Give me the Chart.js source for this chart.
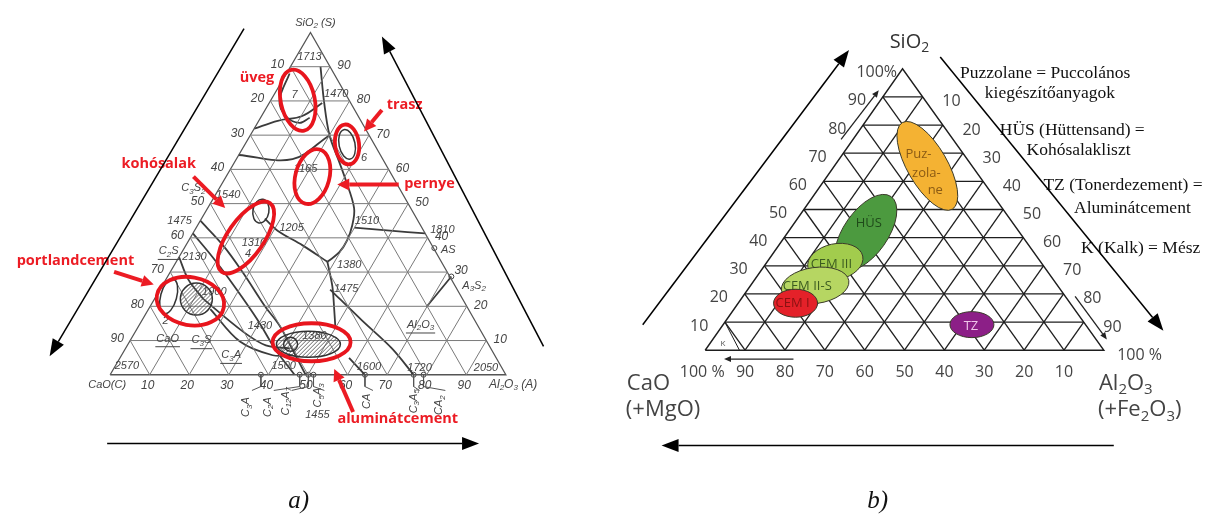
<!DOCTYPE html>
<html>
<head>
<meta charset="utf-8">
<script src="https://cdn.jsdelivr.net/npm/chart.js@4.4.1/dist/chart.umd.min.js"></script>
<style>
  html, body { margin: 0; padding: 0; background: #fff; overflow: hidden; }
  canvas { display: block; }
</style>
</head>
<body>
<canvas id="chart" width="1214" height="521"></canvas>
<script>
const W = 1214, H = 521;
const ticks = [10, 20, 30, 40, 50, 60, 70, 80, 90];

// a) CaO - Al2O3 - SiO2 phase diagram, boundary curves as [Al2O3 %, SiO2 %]
const aCurves = [
    [[7.6, 90], [13.9, 79.4], [20, 70], [26.4, 62.2], [30.4, 57.3], [37, 48.7], [39.1, 43.6], [40, 39.3], [39.8, 35.8], [38.2, 33]],
    [[38.2, 33], [43.1, 25.8], [46.9, 19.2], [50.1, 13.5]],
    [[43, 24.9], [55.7, 15.8], [67.3, 7.7], [76.7, 0]],
    [[39.9, 43], [49.4, 42.1], [58.7, 41.3]],
    [[38.2, 33], [29.5, 37.8], [21, 42.1], [16, 45.6]],
    [[0, 64.2], [14.2, 63], [20, 70]],
    [[0, 71.9], [4.8, 74.2], [10.3, 75.6], [13.4, 79.4]],
    [[0.8, 88], [2.2, 80.2], [6.1, 75.6], [10.6, 73.6], [12.4, 75.1]],
    [[0, 45], [9.4, 37.8], [18.5, 29.8], [28.9, 20.1], [35.6, 14.3], [42.5, 7.2], [49.4, 0]],
    [[0, 41.3], [8.8, 34.1], [18.7, 25.5], [29.4, 15.8], [37.7, 7.7], [46.6, 0]],
    [[12.4, 22.1], [27.2, 12.6], [35, 8.6], [41.5, 7.7]],
    [[15.6, 19.2], [27.9, 9.7], [38.2, 5.7], [43.2, 5.7]],
    [[0, 34.4], [5.7, 27.8], [12.4, 22.1]],
    [[57.9, 4.9], [64.4, 0]],
    [[71.7, 28.7], [69.9, 19.8]]
];

// compounds on the CaO - Al2O3 side (Al2O3 %)
const aCompounds = ['C_3A', 'C_2A', 'C_12A_7', 'C_5A_3', 'CA', 'C_3A_5', 'CA_2'];
const aCompoundAl2O3 = [38.1, 47.9, 50.1, 51.4, 64.4, 76.7, 79.2];
const aEdgePoints = [[71.7, 28.7], [63.2, 37]];

// red marked fields [Al2O3 %, SiO2 %]
const aFields = ['üveg', 'trasz', 'pernye', 'kohósalak', 'portlandcement', 'aluminátcement'];
const aFieldAl2O3 = [6.8, 25.8, 21.8, 14.0, 9.4, 46.1];
const aFieldSiO2 = [80.2, 67.3, 57.9, 40.1, 21.5, 9.5];

// small grey / hatched fields inside
const aInnerAl2O3 = [25.8, 13.9, 3.2, 10.6, 45.6, 41.1];
const aInnerSiO2 = [67.3, 47.8, 22.9, 22.1, 8.9, 8.9];

// b) cement materials in CaO - SiO2 - Al2O3
const bRegions = ['Puzzolane', 'HÜS', 'CEM III', 'CEM II-S', 'CEM I', 'TZ'];
const bSiO2 = [65.5, 41.8, 31.4, 23.0, 16.7, 9.1];
const bAl2O3 = [23.3, 19.6, 17.1, 16.2, 14.4, 62.4];

const legendLines = [
    'Puzzolane = Puccolános', 'kiegészítőanyagok',
    'HÜS (Hüttensand) =', 'Kohósalakliszt',
    'TZ (Tonerdezement) =', 'Aluminátcement',
    'K (Kalk) = Mész'
];

// layout: triangle corners in chart units
const triA = { C: [106, 377], A: [505, 377], S: [308, 28] };
const triB = { C: [706, 352], A: [1108, 352], S: [905, 65] };

function tern(tri, a, s) {
    const A = a / 100, S = s / 100, C = 1 - A - S;
    return {
        x: C * tri.C[0] + A * tri.A[0] + S * tri.S[0],
        y: C * tri.C[1] + A * tri.A[1] + S * tri.S[1]
    };
}

function gridLines(tri) {
    const out = [];
    ticks.forEach(t => {
        out.push([tern(tri, 0, t), tern(tri, 100 - t, t)]);
        out.push([tern(tri, t, 0), tern(tri, t, 100 - t)]);
        out.push([tern(tri, 0, 100 - t), tern(tri, 100 - t, 0)]);
    });
    return out;
}

const datasets = [];
function addLine(pts, color, width, tension = 0) {
    datasets.push({ data: pts, showLine: true, borderColor: color, borderWidth: width, pointRadius: 0, tension: tension, fill: false });
}

gridLines(triA).forEach(l => addLine(l, '#7a7a7a', 1));
addLine([tern(triA, 0, 0), tern(triA, 100, 0), tern(triA, 0, 100), tern(triA, 0, 0)], '#555', 1.3);
aCurves.forEach(c => addLine(c.map(p => tern(triA, p[0], p[1])), '#3b3b3b', 1.8, 0.35));
aCompoundAl2O3.forEach(v => {
    const p = tern(triA, v, 0);
    addLine([p, { x: p.x, y: p.y + 12 }], '#555', 1);
});
datasets.push({
    data: aCompoundAl2O3.map(v => tern(triA, v, 0)).concat(aEdgePoints.map(p => tern(triA, p[0], p[1]))),
    pointRadius: 2.5, pointBackgroundColor: '#fff', pointBorderColor: '#444', pointBorderWidth: 1
});

gridLines(triB).forEach(l => addLine(l, '#1e1e1e', 1.3));
addLine([tern(triB, 0, 0), tern(triB, 100, 0), tern(triB, 0, 100), tern(triB, 0, 0)], '#1e1e1e', 1.4);
addLine([tern(triB, 0, 10), tern(triB, 8.6, 0)], '#1e1e1e', 1);

// ---------- drawing helpers ----------
function rich(ctx, str, x, y, o) {
    const size = o.size || 12, fam = o.family || '"Liberation Sans"', st = o.style || '';
    const parts = [];
    str.split(/(_\d+)/).forEach(s => {
        if (!s) return;
        if (s[0] === '_') parts.push({ t: s.slice(1), sub: true });
        else parts.push({ t: s, sub: false });
    });
    const font = sub => `${st} ${sub ? Math.round(size * 0.7) : size}px ${fam}`;
    let w = 0;
    parts.forEach(p => { ctx.font = font(p.sub); p.w = ctx.measureText(p.t).width; w += p.w; });
    let cx = o.align === 'left' ? x : o.align === 'right' ? x - w : x - w / 2;
    const x0 = cx;
    ctx.fillStyle = o.color || '#333';
    ctx.textBaseline = 'middle';
    ctx.textAlign = 'left';
    parts.forEach(p => {
        ctx.font = font(p.sub);
        ctx.fillText(p.t, cx, y + (p.sub ? size * 0.3 : 0));
        cx += p.w;
    });
    if (o.underline) {
        ctx.strokeStyle = o.color || '#333';
        ctx.lineWidth = 1;
        ctx.beginPath();
        ctx.moveTo(x0 - 1, y + size * 0.75);
        ctx.lineTo(x0 + w + 1, y + size * 0.75);
        ctx.stroke();
    }
}

function arrow(ctx, x1, y1, x2, y2, color, lw, hl, hw) {
    const ang = Math.atan2(y2 - y1, x2 - x1);
    const bx = x2 - hl * Math.cos(ang), by = y2 - hl * Math.sin(ang);
    ctx.strokeStyle = color; ctx.fillStyle = color; ctx.lineWidth = lw;
    ctx.beginPath(); ctx.moveTo(x1, y1); ctx.lineTo(bx, by); ctx.stroke();
    ctx.beginPath();
    ctx.moveTo(x2, y2);
    ctx.lineTo(bx + hw / 2 * Math.sin(ang), by - hw / 2 * Math.cos(ang));
    ctx.lineTo(bx - hw / 2 * Math.sin(ang), by + hw / 2 * Math.cos(ang));
    ctx.closePath(); ctx.fill();
}

const aLabels = [
    ['SiO_2 (S)', 313, 18], ['1713', 307, 53], ['1470', 334, 91], ['7', 292, 92], ['6', 362, 156],
    ['1165', 303, 167], ['1540', 225, 194], ['C_3S_2', 190, 187], ['1475', 176, 220], ['2130', 191, 257],
    ['1205', 289, 227], ['1310', 251, 243], ['4', 245, 254], ['1510', 365, 220], ['1810', 441, 229],
    ['AS', 447, 250], ['1380', 347, 265], ['1475', 344, 289], ['A_3S_2', 473, 286], ['2050', 485, 370],
    ['1720', 418, 370], ['1600', 367, 369], ['1430', 257, 327], ['1500', 281, 368], ['2570', 123, 368],
    ['1900', 211, 293], ['1380', 312, 337], ['2', 162, 322], ['CaO(C)', 103, 387], ['1455', 315, 418]
];
const aUnderlined = [['C_2S', 165, 251], ['Al_2O_3', 419, 326], ['C_3S', 198, 342], ['CaO', 164, 340], ['C_3A', 228, 357]];
const aCompoundLabelX = [243, 265, 283, 316, 365, 412, 438];
const aCompoundLabelY = [410, 410, 404, 398, 404, 404, 408];

const fieldStyle = [
    { rx: 17, ry: 31, rot: -12 }, { rx: 12, ry: 20, rot: -7 }, { rx: 17, ry: 28, rot: 15 },
    { rx: 18, ry: 42, rot: 35 }, { rx: 34, ry: 24, rot: 10 }, { rx: 39, ry: 19, rot: 0 }
];
const fieldText = [[254, 74], [403, 102], [428, 182], [155, 162], [71, 261], [396, 422]];
const redArrows = [[380, 107, 362, 129], [397, 183, 335, 183], [190, 175, 222, 207], [110, 272, 150, 285], [351, 415, 332, 371]];

const bStyle = [
    { rx: 20, ry: 50, rot: -30, color: '#f4b233', text: '#8a5a14' },
    { rx: 22, ry: 44, rot: 35, color: '#4c9a3f', text: '#1f4a1a' },
    { rx: 28, ry: 18, rot: -12, color: '#a2cc4d', text: '#3c5c20' },
    { rx: 34, ry: 18, rot: -8, color: '#b6d662', text: '#3c5c20' },
    { rx: 22, ry: 14, rot: 0, color: '#e42129', text: '#8a1212' },
    { rx: 22, ry: 13, rot: 0, color: '#8c1f87', text: '#f0c6ea' }
];
const bRegionText = [
    [['Puz-', -9, -12], ['zola-', -1, 8], ['ne', 8, 25]],
    [['HÜS', 3, -9]], [['CEM III', -4, 2]], [['CEM II-S', -8, 1]], [['CEM I', -3, 0]], [['TZ', -1, 2]]
];
const legendPos = [[963, 70], [988, 90], [1003, 128], [1030, 148], [1047, 184], [1078, 207], [1085, 248]];
const bigArrows = [
    [241, 24, 45, 358], [543, 348, 380, 32], [103, 447, 478, 447],
    [643, 326, 851, 46], [943, 53, 1168, 332], [1118, 449, 662, 449]
];
const smallArrows = [[843, 137, 881, 87], [795, 361, 725, 361], [1079, 297, 1111, 341]];

const decor = {
    id: 'decor',
    beforeDraw(chart) {
        const c = chart.ctx;
        c.save(); c.fillStyle = '#fff'; c.fillRect(0, 0, chart.width, chart.height); c.restore();
    },
    afterDatasetsDraw(chart) {
        const ctx = chart.ctx;
        const X = v => chart.scales.x.getPixelForValue(v);
        const Y = v => chart.scales.y.getPixelForValue(v);
        const ell = (p, rx, ry, rot) => {
            ctx.beginPath();
            ctx.ellipse(X(p.x), Y(p.y), rx, ry, rot * Math.PI / 180, 0, Math.PI * 2);
        };
        ctx.save();

        // ----- a) -----
        const ita = { size: 12, style: 'italic', color: '#444' };
        ticks.forEach(t => {
            let p = tern(triA, 0, 100 - t);
            rich(ctx, String(t), X(p.x - 13), Y(p.y - 2), ita);
            p = tern(triA, 100 - t, t);
            rich(ctx, String(t), X(p.x + 14), Y(p.y - 1), ita);
            p = tern(triA, t, 0);
            rich(ctx, String(t), X(p.x - 2), Y(p.y + 11), ita);
        });
        aLabels.forEach(l => rich(ctx, l[0], X(l[1]), Y(l[2]), { size: 11, style: 'italic', color: '#444' }));
        aUnderlined.forEach(l => rich(ctx, l[0], X(l[1]), Y(l[2]), { size: 11, style: 'italic', color: '#444', underline: true }));
        rich(ctx, 'Al_2O_3 (A)', X(488), Y(387), { size: 12, style: 'italic', color: '#444', align: 'left' });
        aCompounds.forEach((name, i) => {
            const p = tern(triA, aCompoundAl2O3[i], 0);
            ctx.strokeStyle = '#555'; ctx.lineWidth = 1;
            ctx.beginPath(); ctx.moveTo(X(p.x), Y(p.y + 12)); ctx.lineTo(X(aCompoundLabelX[i] + 6), Y(p.y + 16)); ctx.stroke();
            ctx.save();
            ctx.translate(X(aCompoundLabelX[i]), Y(aCompoundLabelY[i]));
            ctx.rotate(-Math.PI / 2);
            rich(ctx, name, 0, 0, { size: 11, style: 'italic', color: '#444' });
            ctx.restore();
        });

        // grey & hatched inner fields
        const inner = [
            { rx: 8, ry: 15, rot: -12, hatch: false }, { rx: 8, ry: 12, rot: 10, hatch: false },
            { rx: 8, ry: 18, rot: 15, hatch: false }, { rx: 16, ry: 16, rot: 0, hatch: true },
            { rx: 32, ry: 13, rot: 0, hatch: true }, { rx: 7, ry: 7, rot: 0, hatch: false }
        ];
        inner.forEach((s, i) => {
            const p = tern(triA, aInnerAl2O3[i], aInnerSiO2[i]);
            if (s.hatch) {
                ctx.save();
                ell(p, s.rx, s.ry, s.rot); ctx.clip();
                ctx.strokeStyle = '#555'; ctx.lineWidth = 0.9;
                for (let d = -50; d <= 50; d += 4) {
                    ctx.beginPath();
                    ctx.moveTo(X(p.x) + d - 20, Y(p.y) + 20);
                    ctx.lineTo(X(p.x) + d + 20, Y(p.y) - 20);
                    ctx.stroke();
                }
                ctx.restore();
            }
            ell(p, s.rx, s.ry, s.rot);
            ctx.strokeStyle = '#333'; ctx.lineWidth = 1.5; ctx.stroke();
        });

        // red fields and labels
        aFields.forEach((name, i) => {
            const p = tern(triA, aFieldAl2O3[i], aFieldSiO2[i]);
            const s = fieldStyle[i];
            ell(p, s.rx, s.ry, s.rot);
            ctx.strokeStyle = '#e8151d'; ctx.lineWidth = 3.8; ctx.stroke();
            rich(ctx, name, X(fieldText[i][0]), Y(fieldText[i][1]), { size: 14.5, style: 'bold', family: '"Open Sans"', color: '#ec1c24' });
        });
        redArrows.forEach(a => arrow(ctx, X(a[0]), Y(a[1]), X(a[2]), Y(a[3]), '#ec1c24', 4, 12, 12));

        // ----- b) -----
        bRegions.forEach((name, i) => {
            const p = tern(triB, bAl2O3[i], bSiO2[i]);
            const s = bStyle[i];
            ell(p, s.rx, s.ry, s.rot);
            ctx.fillStyle = s.color; ctx.fill();
            ctx.strokeStyle = '#3a3a2a'; ctx.lineWidth = 1; ctx.stroke();
            bRegionText[i].forEach(t => rich(ctx, t[0], X(p.x + t[1]), Y(p.y + t[2]),
                { size: 13, family: '"Open Sans"', color: s.text }));
        });

        const bt = { size: 16, family: '"Open Sans"', color: '#444' };
        ticks.concat([100]).forEach(t => {
            let p = tern(triB, 0, t);
            rich(ctx, t === 100 ? '100%' : String(t), X(p.x - 26), Y(p.y + 4), bt);
            p = tern(triB, t, 100 - t);
            rich(ctx, t === 100 ? '100 %' : String(t), X(p.x + (t === 100 ? 36 : 29)), Y(p.y + 5), bt);
            p = tern(triB, 100 - t, 0);
            rich(ctx, t === 100 ? '100 %' : String(t), X(p.x - (t === 100 ? 3 : 0)), Y(p.y + 23), bt);
        });
        rich(ctx, 'K', X(724), Y(345), { size: 8, family: '"Open Sans"', color: '#555' });
        rich(ctx, 'SiO_2', X(892), Y(38), { size: 20, family: '"Open Sans"', color: '#333', align: 'left' });
        rich(ctx, 'CaO', X(627), Y(386), { size: 22, family: '"Open Sans"', color: '#444', align: 'left' });
        rich(ctx, '(+MgO)', X(626), Y(413), { size: 22, family: '"Open Sans"', color: '#444', align: 'left' });
        rich(ctx, 'Al_2O_3', X(1103), Y(386), { size: 22, family: '"Open Sans"', color: '#444', align: 'left' });
        rich(ctx, '(+Fe_2O_3)', X(1102), Y(413), { size: 22, family: '"Open Sans"', color: '#444', align: 'left' });

        legendLines.forEach((txt, i) => rich(ctx, txt, X(legendPos[i][0]), Y(legendPos[i][1]),
            { size: 17.5, family: '"Liberation Serif"', color: '#111', align: 'left' }));

        bigArrows.forEach(a => arrow(ctx, X(a[0]), Y(a[1]), X(a[2]), Y(a[3]), '#000', 1.5, 17, 13));
        smallArrows.forEach(a => arrow(ctx, X(a[0]), Y(a[1]), X(a[2]), Y(a[3]), '#222', 1.3, 7, 6));

        rich(ctx, 'a)', X(296), Y(506), { size: 25, style: 'italic', family: '"Liberation Serif"', color: '#111' });
        rich(ctx, 'b)', X(880), Y(506), { size: 25, style: 'italic', family: '"Liberation Serif"', color: '#111' });
        ctx.restore();
    }
};

new Chart(document.getElementById('chart'), {
    type: 'scatter',
    data: { datasets },
    options: {
        responsive: false,
        animation: false,
        devicePixelRatio: 1,
        events: [],
        layout: { padding: 0 },
        plugins: { legend: { display: false }, tooltip: { enabled: false } },
        scales: {
            x: { type: 'linear', min: 0, max: W, display: false },
            y: { type: 'linear', min: 0, max: H, reverse: true, display: false }
        }
    },
    plugins: [decor]
});
</script>
</body>
</html>
